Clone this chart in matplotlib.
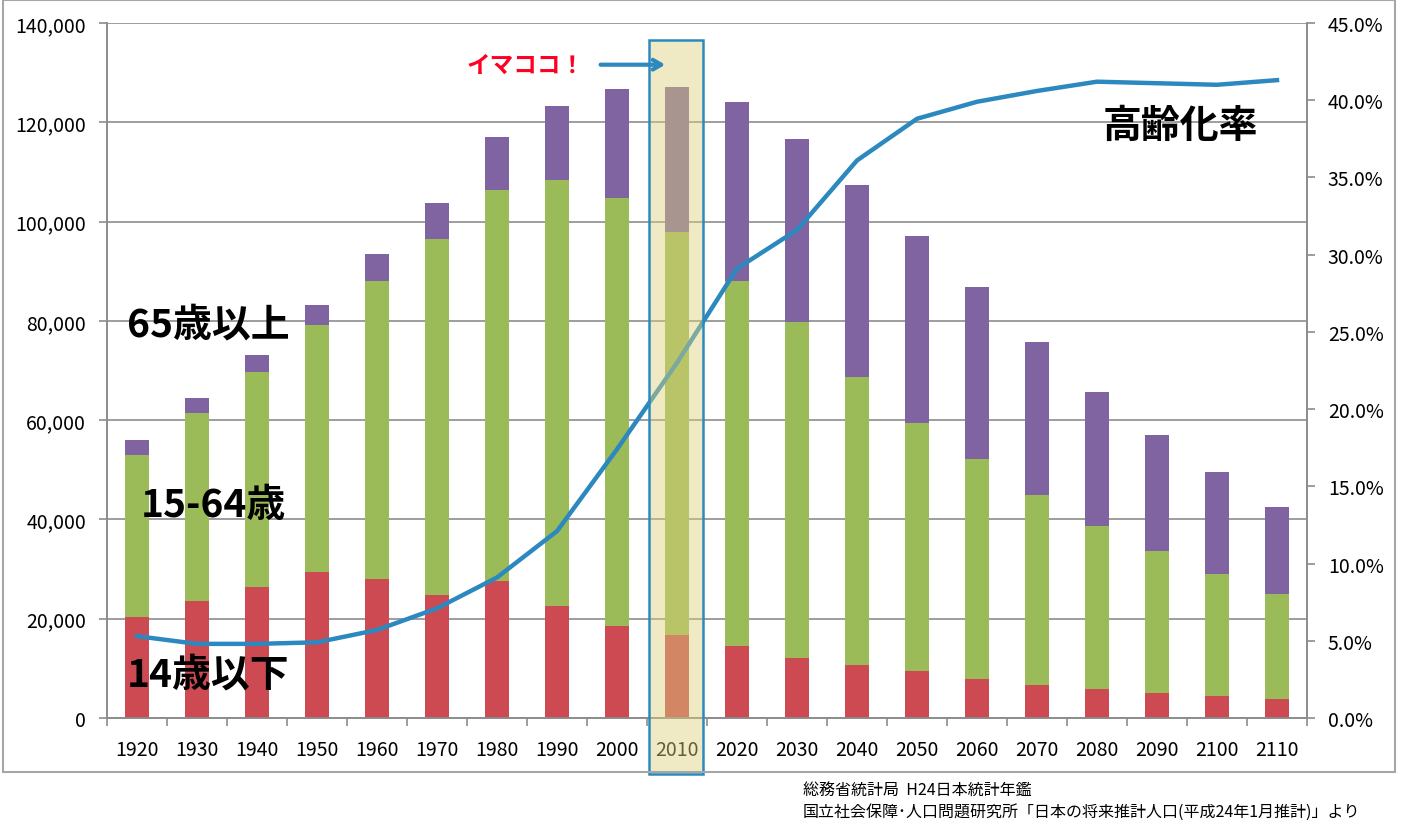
import matplotlib
matplotlib.use("Agg")
import matplotlib.pyplot as plt
import matplotlib.patches as mpatches
import matplotlib.transforms as mtransforms
from matplotlib.ticker import FuncFormatter, MultipleLocator, FixedLocator, NullFormatter
import numpy as np

plt.rcParams['font.family'] = ['Noto Sans CJK JP', 'DejaVu Sans']

# data (thousand persons / percent)
years = [1920, 1930, 1940, 1950, 1960, 1970, 1980, 1990, 2000, 2010,
         2020, 2030, 2040, 2050, 2060, 2070, 2080, 2090, 2100, 2110]
under15 = [20416, 23579, 26369, 29428, 28067, 24823, 27507, 22486, 18472, 16803,
           14568, 12039, 10732, 9387, 7912, 6700, 5850, 4950, 4400, 3750]
age15_64 = [32605, 37807, 43252, 49658, 60002, 71566, 78835, 85904, 86220, 81032,
            73408, 67730, 57866, 50013, 44183, 38200, 32850, 28650, 24600, 21250]
over65 = [2941, 3064, 3454, 4155, 5398, 7393, 10647, 14895, 22005, 29246,
          36124, 36849, 38678, 37676, 34642, 30800, 27000, 23400, 20600, 17500]
aging_rate = [5.3, 4.8, 4.8, 4.9, 5.7, 7.1, 9.1, 12.1, 17.4, 23.0,
              29.1, 31.6, 36.1, 38.8, 39.9, 40.6, 41.2, 41.1, 41.0, 41.3]
highlight_year = 2010

RED = "#CD4A52"
GREEN = "#9BBB59"
PURPLE = "#8064A2"
BLUE = "#2C89BF"
GRID = "#8C8C8C"

fig = plt.figure(figsize=(14.27, 8.37), dpi=100)
ax = fig.add_axes([107 / 1427, 118 / 837, 1200 / 1427, 695 / 837])
ax2 = ax.twinx()

x = np.arange(len(years))
under15 = np.array(under15)
age15_64 = np.array(age15_64)
over65 = np.array(over65)
w = 0.4
ax.bar(x, under15, w, color=RED, zorder=2)
ax.bar(x, age15_64, w, bottom=under15, color=GREEN, zorder=2)
ax.bar(x, over65, w, bottom=under15 + age15_64, color=PURPLE, zorder=2)

ax.set_xlim(-0.5, len(years) - 0.5)
ax.set_ylim(0, 140000)
ax.yaxis.set_major_locator(MultipleLocator(20000))
ax.yaxis.set_major_formatter(FuncFormatter(lambda v, p: "{:,.0f}".format(v)))
ax.grid(axis="y", color=GRID, linewidth=1.2, zorder=0)
ax.set_axisbelow(True)

# x ticks at category boundaries, labels at centres
ax.xaxis.set_major_locator(FixedLocator(np.arange(-0.5, len(years), 1.0)))
ax.xaxis.set_major_formatter(NullFormatter())
ax.xaxis.set_minor_locator(FixedLocator(x))
ax.set_xticklabels([str(y) for y in years], minor=True)
ax.tick_params(axis="x", which="major", length=6, width=1.2, color=GRID)
ax.tick_params(axis="x", which="minor", length=0, pad=15, labelsize=14)
ax.tick_params(axis="y", length=6, width=1.2, color=GRID, pad=9, labelsize=14)

ax2.plot(x, aging_rate, color=BLUE, linewidth=3.2, zorder=3, solid_joinstyle="round")
ax2.set_ylim(0, 45)
ax2.yaxis.set_major_locator(MultipleLocator(5))
ax2.yaxis.set_major_formatter(FuncFormatter(lambda v, p: "{:.1f}%".format(v)))
ax2.tick_params(axis="y", length=6, width=1.2, color=GRID, pad=9, labelsize=14)

for a in (ax, ax2):
    a.spines["top"].set_visible(False)
    for s in ("left", "right", "bottom"):
        a.spines[s].set_color(GRID)
        a.spines[s].set_linewidth(1.2)

# highlight box for 2010
hi = years.index(highlight_year)
trans = mtransforms.blended_transform_factory(ax2.transData, ax2.transAxes)
box = mpatches.Rectangle((hi - 0.47, -0.08), 0.9, 1.056, transform=trans,
                         facecolor="#DCD17A", alpha=0.45, edgecolor="none",
                         clip_on=False, zorder=5)
ax2.add_patch(box)
edge = mpatches.Rectangle((hi - 0.47, -0.08), 0.9, 1.056, transform=trans,
                          facecolor="none", edgecolor=BLUE, linewidth=1.8,
                          clip_on=False, zorder=6)
ax2.add_patch(edge)

ax2.annotate("", xy=(hi - 0.15, 0.94), xytext=(hi - 1.32, 0.94),
             xycoords=trans, textcoords=trans,
             arrowprops=dict(arrowstyle="->,head_length=0.6,head_width=0.35",
                             color=BLUE, lw=3), zorder=7)
ax2.text(hi - 2.53, 0.94, "イマココ！", transform=trans, color="#FF0022",
         fontsize=17, fontweight="bold", ha="center", va="center", zorder=7)

# series labels
lbl = dict(fontsize=28, fontweight="bold", ha="center", va="center",
           transform=ax.transAxes, zorder=8)
ax.text((208 - 107) / 1200, (719 - 325) / 695, "65歳以上", **lbl)
ax.text((213 - 107) / 1200, (719 - 505) / 695, "15-64歳", **lbl)
ax.text((208 - 107) / 1200, (719 - 675) / 695, "14歳以下", **lbl)
ax.text((1180 - 107) / 1200, (719 - 126) / 695, "高齢化率", **lbl)

# outer chart border
fig.add_artist(mpatches.Rectangle((3 / 1427, 64 / 837), 1392 / 1427, 772 / 837,
                                  transform=fig.transFigure, facecolor="none",
                                  edgecolor="#A6A6A6", linewidth=1.5))

fig.text(803 / 1427, 1 - 790 / 837, "総務省統計局  H24日本統計年鑑",
         fontsize=11.5, va="center", ha="left")
fig.text(803 / 1427, 1 - 812 / 837,
         "国立社会保障･人口問題研究所「日本の将来推計人口(平成24年1月推計)」より",
         fontsize=11.5, va="center", ha="left")

fig.savefig("out.png", dpi=100)
